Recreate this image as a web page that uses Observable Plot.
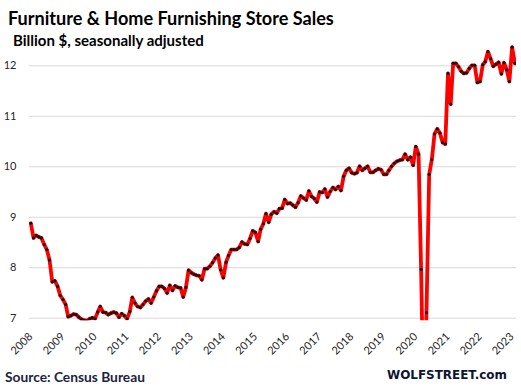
<!DOCTYPE html>
<html><head><meta charset="utf-8">
<script src="https://cdn.jsdelivr.net/npm/d3@7"></script>
<script src="https://cdn.jsdelivr.net/npm/@observablehq/plot@0.6"></script>
<style>
html,body{margin:0;padding:0;background:#fff;}
#wrap{position:relative;width:521px;height:390px;overflow:hidden;background:#fff;}
#chart{position:absolute;left:0;top:0;}
.t{position:absolute;white-space:nowrap;line-height:1;left:0;top:0;}
</style></head><body>
<div id="wrap">
  <div id="chart"></div>
  <div class="t" id="title">Furniture &amp; Home Furnishing Store Sales</div>
  <div class="t" id="subtitle">Billion $, seasonally adjusted</div>
  <div class="t" id="source">Source: Census Bureau</div>
  <div class="t" id="brand">WOLFSTREET.com</div>
</div>
<script>
// Monthly sales, billion $, starting January 2008
const startYear = 2008;
const sales2008 = [8.88, 8.59, 8.64, 8.61, 8.59, 8.46, 8.36, 8.15, 7.72, 7.74, 7.63, 7.45];
const sales2009 = [7.37, 7.27, 7.03, 7.05, 7.08, 7.07, 7.02, 6.98, 6.96, 6.95, 6.99, 7.01];
const sales2010 = [6.99, 7.12, 7.23, 7.12, 7.11, 7.07, 7.10, 7.12, 7.10, 7.02, 7.09, 7.05];
const sales2011 = [6.99, 7.13, 7.41, 7.30, 7.23, 7.21, 7.27, 7.34, 7.38, 7.30, 7.42, 7.54];
const sales2012 = [7.63, 7.63, 7.59, 7.50, 7.65, 7.55, 7.64, 7.61, 7.60, 7.42, 7.61, 7.95];
const sales2013 = [7.90, 7.87, 7.85, 7.84, 7.76, 7.98, 7.98, 8.03, 8.10, 8.19, 8.25, 7.96];
const sales2014 = [7.80, 8.11, 8.24, 8.36, 8.36, 8.36, 8.40, 8.51, 8.47, 8.46, 8.58, 8.73];
const sales2015 = [8.70, 8.52, 8.76, 8.87, 9.07, 8.90, 9.06, 9.11, 9.08, 9.17, 9.18, 9.35];
const sales2016 = [9.27, 9.28, 9.24, 9.20, 9.29, 9.42, 9.38, 9.34, 9.52, 9.41, 9.37, 9.30];
const sales2017 = [9.50, 9.49, 9.56, 9.40, 9.51, 9.59, 9.55, 9.61, 9.53, 9.81, 9.93, 9.97];
const sales2018 = [9.88, 9.86, 9.88, 10.01, 9.93, 9.97, 10.01, 9.89, 9.89, 9.93, 9.96, 9.94];
const sales2019 = [9.85, 9.85, 9.93, 10.01, 10.07, 10.11, 10.13, 10.14, 10.25, 10.14, 10.19, 10.03];
const sales2020 = [10.40, 10.25, 7.97, 5.00, 7.11, 9.85, 10.14, 10.65, 10.75, 10.67, 10.48, 10.45];
const sales2021 = [11.85, 11.24, 12.05, 12.05, 11.98, 11.89, 11.85, 11.86, 11.95, 12.01, 12.01, 11.67];
const sales2022 = [11.69, 12.02, 12.08, 12.28, 12.14, 11.99, 12.03, 12.07, 11.84, 12.06, 11.92, 11.69];
const sales2023 = [12.37, 12.05];

const yTicks = [7, 8, 9, 10, 11, 12];
const tickYears = [2008, 2009, 2010, 2011, 2012, 2013, 2014, 2015, 2016, 2017, 2018, 2019, 2020, 2021, 2022, 2023];

const allSales = [].concat(sales2008, sales2009, sales2010, sales2011, sales2012, sales2013, sales2014,
  sales2015, sales2016, sales2017, sales2018, sales2019, sales2020, sales2021, sales2022, sales2023);
const data = allSales.map((v, i) => ({date: new Date(Date.UTC(startYear, i, 1)), value: v}));
const tickDates = tickYears.map(y => new Date(Date.UTC(y, 0, 1)));

const textColor = "#262626";
const chart = Plot.plot({
  width: 521,
  height: 390,
  marginLeft: 29,
  marginRight: 5,
  marginTop: 42.6,
  marginBottom: 69.8,
  style: {fontFamily: "Lato, sans-serif", fontSize: "10px", color: textColor, background: "transparent"},
  x: {type: "utc", domain: [new Date(Date.UTC(2007, 11, 17)), new Date(Date.UTC(2023, 1, 20))], axis: null},
  y: {domain: [6.95, 12.45], axis: null},
  marks: [
    Plot.ruleY(yTicks, {stroke: "#d9d9d9", strokeWidth: 1}),
    Plot.lineY(data, {x: "date", y: "value", stroke: "#ff0000", strokeWidth: 3.8, strokeLinejoin: "round", strokeLinecap: "round", clip: true}),
    Plot.dot(data, {x: "date", y: "value", r: 1.55, fill: "#111", stroke: "none", clip: true}),
    Plot.axisY(yTicks, {anchor: "left", tickSize: 0, tickPadding: 13, fontSize: 11, label: null, tickFormat: d => String(d)}),
    Plot.text(tickDates, {x: d => d, frameAnchor: "bottom", dy: 14, rotate: -45, textAnchor: "end", lineAnchor: "middle",
      fontSize: 11, fill: "currentColor", text: d => String(d.getUTCFullYear())})
  ]
});
document.getElementById("chart").appendChild(chart);

function place(id, o) {
  const el = document.getElementById(id);
  el.style.fontFamily = o.font;
  el.style.fontWeight = o.weight;
  el.style.color = o.color;
  el.style.fontSize = o.size + "px";
  const w = el.getBoundingClientRect().width;
  const fs = o.size * (o.right - o.left) / w;
  el.style.fontSize = fs + "px";
  const probe = document.createElement("span");
  probe.style.cssText = "display:inline-block;width:0;height:0;vertical-align:baseline;";
  el.appendChild(probe);
  const base = probe.getBoundingClientRect().top - el.getBoundingClientRect().top;
  el.style.left = o.left + "px";
  el.style.top = (o.baseline - base) + "px";
}
place("title", {font: "Lato, sans-serif", weight: 700, color: "#000", size: 18, left: 8, right: 334, baseline: 25});
place("subtitle", {font: "Lato, sans-serif", weight: 700, color: "#000", size: 13, left: 13, right: 204, baseline: 45.5});
place("source", {font: "Lato, sans-serif", weight: 700, color: "#1c2340", size: 14, left: 5, right: 145, baseline: 381.7});
place("brand", {font: "DejaVu Sans, sans-serif", weight: 700, color: "#0d1530", size: 12.5, left: 387, right: 507, baseline: 378.5});
</script>
</body></html>
